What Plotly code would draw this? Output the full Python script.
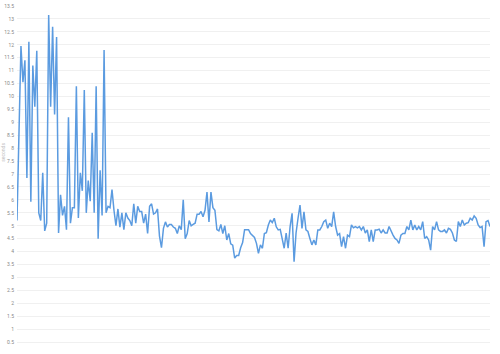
import plotly.graph_objects as go

values_part1 = [
    5.2, 8.5, 11.95, 10.55, 11.4, 6.85, 12.12, 5.93, 11.2, 9.6,
    11.77, 5.5, 5.2, 7.05, 4.8, 5.1, 13.15, 9.6, 12.7, 9.3,
    12.3, 4.72, 6.2, 5.4, 5.75, 4.85, 9.2, 5.1, 5.7, 5.7,
    10.4, 5.3, 7.05, 6.35, 10.25, 5.5, 6.75, 5.95, 8.6, 5.5,
    10.4, 4.5, 7.15, 5.4, 11.8, 5.5, 5.75, 5.7, 6.4, 5.6,
    5.0, 5.65, 4.95, 5.5, 4.85, 5.5, 5.3, 5.2, 5.0, 5.85,
    5.1, 5.75, 5.55, 5.55, 5.1, 5.45, 4.7, 5.75, 5.85, 5.45,
    5.5, 5.65, 4.6, 4.15, 4.9, 5.15, 4.95, 5.05, 5.05, 4.95,
    4.9, 4.7, 5.0, 4.85, 6.0, 4.5, 4.7, 5.2, 5.0, 5.05,
    5.1, 5.45, 5.45, 5.55, 5.35, 5.6, 6.3, 5.15, 6.3, 5.7,
    5.6, 4.85, 4.8, 5.05, 4.7, 5.0, 4.45, 4.7, 4.3, 4.25,
    3.75, 3.85, 3.85, 4.15, 4.35, 4.85, 4.85, 4.85, 4.7,
]

values_part2 = [
    4.64, 4.55, 4.32, 3.93, 4.26, 4.13, 4.7, 4.73, 5.03, 5.22,
    5.12, 5.29, 4.96, 4.84, 4.86, 4.45, 4.13, 4.72, 4.13, 4.97,
    5.48, 3.61, 4.72, 5.29, 5.8, 4.9, 5.54, 4.84, 4.78, 4.51,
    4.26, 4.45, 4.26, 4.84, 4.84, 4.97, 5.16, 5.22, 4.9, 5.1,
    4.97, 5.54, 4.97, 4.64, 4.7, 4.19, 4.58, 4.13, 4.64, 4.58,
    5.03, 4.92, 4.97, 4.92, 4.97, 4.84, 4.97, 4.72, 4.84, 4.39,
    4.84, 4.39, 4.84, 4.84, 4.87, 4.72, 4.84, 4.72, 4.72, 4.97,
    4.78, 4.64, 4.51, 4.45, 4.32, 4.64, 4.7, 4.7, 4.97, 4.84,
    5.22, 4.84, 5.03, 4.84, 4.97, 4.84, 5.16, 4.51, 4.58, 4.45,
    4.06, 4.97, 4.84, 5.16, 4.84, 4.78, 4.78, 4.84, 4.72, 4.9,
    4.86, 4.72, 4.45, 4.39, 5.16, 4.97, 5.22, 5.03, 5.1, 5.12,
    5.29, 5.22, 5.38, 5.29, 5.03, 4.93, 4.97, 4.19, 5.16, 5.2,
    4.97,
]

values = values_part1 + values_part2
x_index = list(range(len(values)))
y_title = "seconds"

fig = go.Figure()
fig.add_trace(go.Scatter(
    x=x_index, y=values, mode="lines",
    line=dict(color="#5b9be0", width=1.5),
    hoverinfo="skip",
))

fig.update_layout(
    width=500, height=354,
    margin=dict(l=17, r=10, t=6, b=0, autoexpand=False),
    paper_bgcolor="white", plot_bgcolor="white",
    showlegend=False,
    xaxis=dict(visible=False, range=[0, len(values) - 1], automargin=False),
    yaxis=dict(
        range=[0.04, 13.5], dtick=0.5, tick0=0,
        showgrid=True, gridcolor="#f0f0f0", gridwidth=1,
        zeroline=False, showline=False, ticks="",
        tickfont=dict(family="Roboto", size=5, color="#888888"),
        ticklabelstandoff=2, automargin=False,
    ),
    annotations=[dict(
        text=y_title, xref="paper", yref="paper",
        x=-14 / 473, y=0.578, xanchor="center", yanchor="middle",
        textangle=-90, showarrow=False,
        font=dict(family="Roboto", size=5, color="#c0c0c0"),
    )],
)

fig.write_html("out.html")
